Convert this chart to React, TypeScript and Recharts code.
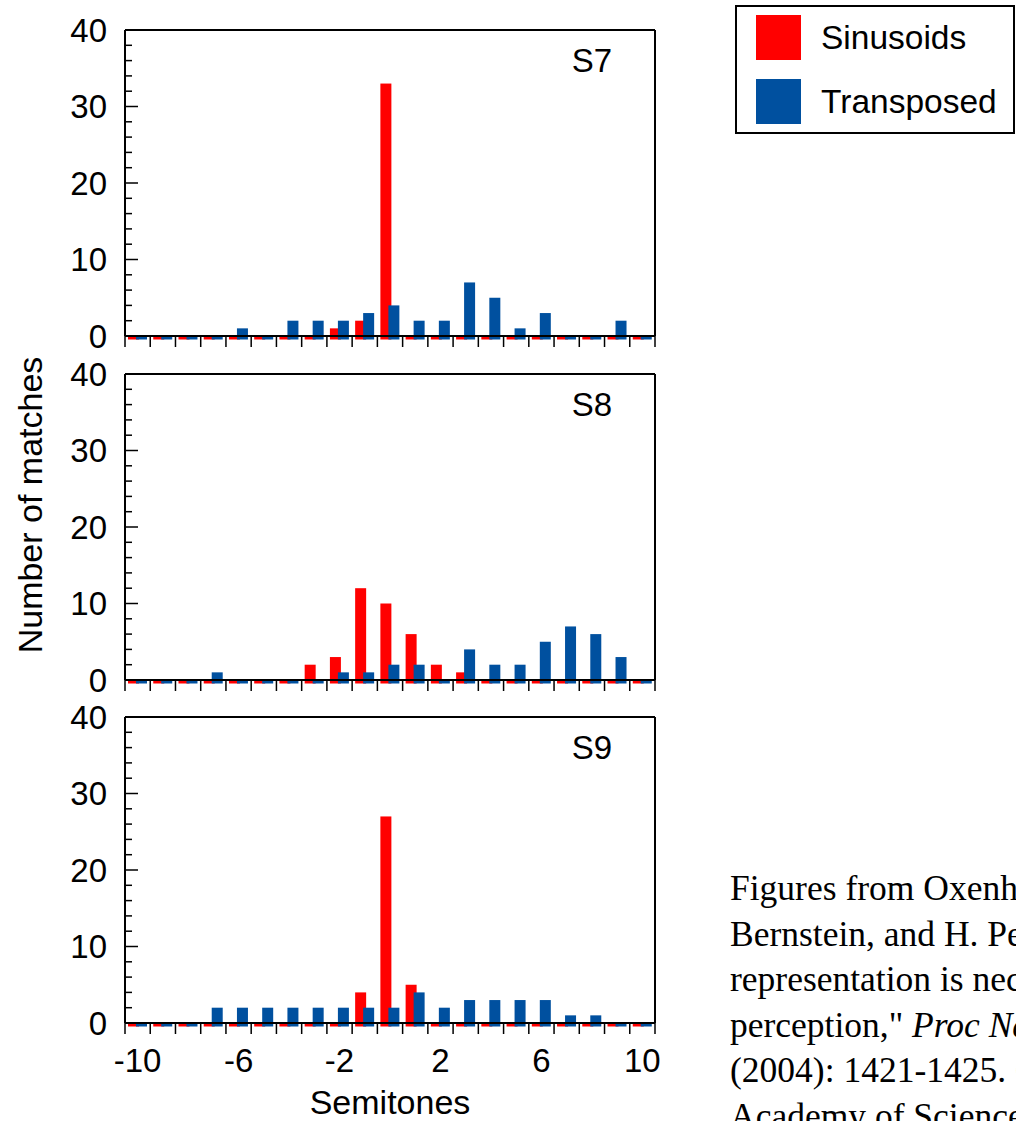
import { Bar, BarChart, XAxis, YAxis } from "recharts";

const SEMITONES = [-10, -9, -8, -7, -6, -5, -4, -3, -2, -1, 0, 1, 2, 3, 4, 5, 6, 7, 8, 9, 10];
const X_LABELS = [-10, -6, -2, 2, 6, 10];
const Y_TICKS = [0, 2, 4, 6, 8, 10, 12, 14, 16, 18, 20, 22, 24, 26, 28, 30, 32, 34, 36, 38, 40];

const S7_SINUSOIDS = [0, 0, 0, 0, 0, 0, 0, 0, 1, 2, 33, 0, 0, 0, 0, 0, 0, 0, 0, 0, 0];
const S7_TRANSPOSED = [0, 0, 0, 0, 1, 0, 2, 2, 2, 3, 4, 2, 2, 7, 5, 1, 3, 0, 0, 2, 0];
const S8_SINUSOIDS = [0, 0, 0, 0, 0, 0, 0, 2, 3, 12, 10, 6, 2, 1, 0, 0, 0, 0, 0, 0, 0];
const S8_TRANSPOSED = [0, 0, 0, 1, 0, 0, 0, 0, 1, 1, 2, 2, 0, 4, 2, 2, 5, 7, 6, 3, 0];
const S9_SINUSOIDS = [0, 0, 0, 0, 0, 0, 0, 0, 0, 4, 27, 5, 0, 0, 0, 0, 0, 0, 0, 0, 0];
const S9_TRANSPOSED = [0, 0, 0, 2, 2, 2, 2, 2, 2, 2, 2, 4, 2, 3, 3, 3, 3, 1, 1, 0, 0];

const RED = "#ff0000";
const BLUE = "#00509f";
const FONT = '"Liberation Sans", Arial, sans-serif';

// plot geometry (px)
const PLOT_LEFT = 125;
const PLOT_WIDTH = 530;
const PLOT_HEIGHT = 306;
const TOP_SPACE = 20;
const BOTTOM_SPACE = 60;
const RIGHT_SPACE = 25;
const BAND = PLOT_WIDTH / SEMITONES.length;

function buildRows(sin: number[], tra: number[]) {
  return SEMITONES.map((s, i) => ({ semitone: s, sinusoids: sin[i], transposed: tra[i] }));
}

// bar body plus the thin stub the original draws under the baseline for every bin
function StubBar(props: any) {
  const { x, y, width, height, fill } = props;
  if (x == null || width == null) return <g />;
  const h = Math.max(0, height || 0);
  return (
    <g>
      {h > 0 && <rect x={x} y={y} width={width} height={h} fill={fill} />}
      <rect x={x} y={y + h + 1} width={width} height={2.5} fill={fill} />
    </g>
  );
}

function LeftTick(props: any) {
  const { x, y, payload } = props;
  const v = payload.value;
  const major = v % 10 === 0;
  return (
    <g>
      {v > 0 && v < 40 && <line x1={x} x2={x + (major ? 13 : 7)} y1={y} y2={y} stroke="#000" strokeWidth={1.5} />}
      {major && (
        <text x={x - 18} y={y} textAnchor="end" dominantBaseline="central" fontSize={33} fontFamily={FONT} fill="#000">
          {v}
        </text>
      )}
    </g>
  );
}

function RightTick(props: any) {
  const { x, y, payload } = props;
  const v = payload.value;
  const major = v % 10 === 0;
  if (v <= 0 || v >= 40) return <g />;
  return <line x1={x} x2={x - (major ? 13 : 7)} y1={y} y2={y} stroke="#000" strokeWidth={1.5} />;
}

function makeBottomTick(showLabels: boolean) {
  return function BottomTick(props: any) {
    const { x, y, payload } = props;
    const v = payload.value;
    const left = x - BAND / 2;
    return (
      <g>
        <line x1={left} x2={left} y1={y} y2={y + 11} stroke="#000" strokeWidth={1.5} />
        {v === 10 && <line x1={x + BAND / 2} x2={x + BAND / 2} y1={y} y2={y + 11} stroke="#000" strokeWidth={1.5} />}
        {showLabels && X_LABELS.includes(v) && (
          <text x={x} y={y + 49} textAnchor="middle" fontSize={33} fontFamily={FONT} fill="#000">
            {v}
          </text>
        )}
      </g>
    );
  };
}

function Panel({ sin, tra, top, name, showLabels }: { sin: number[]; tra: number[]; top: number; name: string; showLabels: boolean }) {
  const data = buildRows(sin, tra);
  return (
    <div style={{ position: "absolute", left: 0, top }}>
      <BarChart
        width={PLOT_LEFT + PLOT_WIDTH + RIGHT_SPACE}
        height={TOP_SPACE + PLOT_HEIGHT + BOTTOM_SPACE}
        data={data}
        margin={{ top: 0, right: 0, left: 0, bottom: 0 }}
        barGap={-3}
      >
        <XAxis
          dataKey="semitone"
          interval={0}
          tickSize={0}
          tickMargin={0}
          height={BOTTOM_SPACE}
          axisLine={{ stroke: "#000", strokeWidth: 2 }}
          tick={makeBottomTick(showLabels)}
        />
        <XAxis
          xAxisId="top"
          dataKey="semitone"
          orientation="top"
          height={TOP_SPACE}
          tick={false}
          tickLine={false}
          axisLine={{ stroke: "#000", strokeWidth: 2 }}
        />
        <YAxis
          domain={[0, 40]}
          ticks={Y_TICKS}
          interval={0}
          width={PLOT_LEFT}
          tickSize={0}
          tickMargin={0}
          axisLine={{ stroke: "#000", strokeWidth: 2 }}
          tick={<LeftTick />}
        />
        <YAxis
          yAxisId="right"
          orientation="right"
          domain={[0, 40]}
          ticks={Y_TICKS}
          interval={0}
          width={RIGHT_SPACE}
          tickSize={0}
          tickMargin={0}
          axisLine={{ stroke: "#000", strokeWidth: 2 }}
          tick={<RightTick />}
        />
        <Bar dataKey="sinusoids" fill={RED} barSize={11} shape={<StubBar />} isAnimationActive={false} />
        <Bar dataKey="transposed" fill={BLUE} barSize={11} shape={<StubBar />} isAnimationActive={false} />
      </BarChart>
      <div style={{ position: "absolute", left: 557, top: 34, width: 70, textAlign: "center", fontFamily: FONT, fontSize: 33, lineHeight: "33px" }}>
        {name}
      </div>
    </div>
  );
}

export default function App() {
  return (
    <div style={{ position: "absolute", left: 0, top: 0, width: 1016, height: 1121, overflow: "hidden", background: "#fff" }}>
      <Panel sin={S7_SINUSOIDS} tra={S7_TRANSPOSED} top={10} name="S7" showLabels={false} />
      <Panel sin={S8_SINUSOIDS} tra={S8_TRANSPOSED} top={354} name="S8" showLabels={false} />
      <Panel sin={S9_SINUSOIDS} tra={S9_TRANSPOSED} top={697} name="S9" showLabels={true} />

      <div
        style={{
          position: "absolute",
          left: 30,
          top: 505,
          transform: "translate(-50%, -50%) rotate(-90deg)",
          whiteSpace: "nowrap",
          fontFamily: FONT,
          fontSize: 34,
        }}
      >
        Number of matches
      </div>
      <div style={{ position: "absolute", left: 290, width: 200, top: 1086, textAlign: "center", fontFamily: FONT, fontSize: 34, lineHeight: "33px" }}>
        Semitones
      </div>

      <div style={{ position: "absolute", left: 735, top: 5, width: 280, height: 129, border: "2px solid #000", boxSizing: "border-box", fontFamily: FONT, fontSize: 33.5 }}>
        <div style={{ position: "absolute", left: 19, top: 8, width: 45, height: 45, background: RED }} />
        <div style={{ position: "absolute", left: 84, top: 8, lineHeight: "45px" }}>Sinusoids</div>
        <div style={{ position: "absolute", left: 19, top: 72, width: 45, height: 45, background: BLUE }} />
        <div style={{ position: "absolute", left: 84, top: 72, lineHeight: "45px" }}>Transposed</div>
      </div>

      <div
        style={{
          position: "absolute",
          left: 730,
          top: 866,
          width: 286,
          overflow: "hidden",
          whiteSpace: "nowrap",
          fontFamily: '"Liberation Serif", "Times New Roman", serif',
          fontSize: 35.5,
          lineHeight: "45.5px",
        }}
      >
        <div>Figures from Oxenham, A. J., J. G. W.</div>
        <div>Bernstein, and H. Penagos. "Correct tonotopic</div>
        <div>representation is necessary for complex pitch</div>
        <div>
          perception," <i>Proc Natl Acad Sci USA</i> 101
        </div>
        <div>(2004): 1421-1425. Copyright 2004 National</div>
        <div>Academy of Sciences, U.S.A.</div>
      </div>
    </div>
  );
}
